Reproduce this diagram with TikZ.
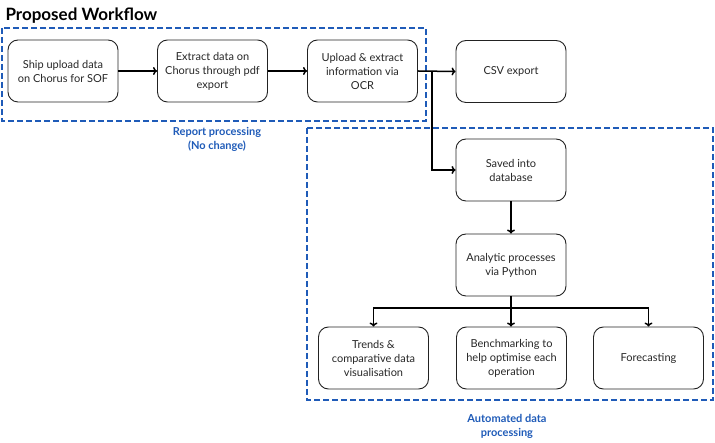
\documentclass[tikz,border=0pt]{standalone}
\usepackage{fontspec}
\setmainfont{Lato}
\usetikzlibrary{arrows.meta}
\definecolor{groupblue}{HTML}{1F5BB8}
\definecolor{boxline}{HTML}{222222}
\begin{document}
\begin{tikzpicture}[x=1pt,y=-1pt,
    stepbox/.style={draw=boxline,line width=0.9pt,rounded corners=10pt,
        minimum width=110pt,minimum height=62pt,align=center,
        font=\fontsize{11}{14}\selectfont,text=black!85},
    flow/.style={line width=1.5pt,-{To[length=4pt,width=8pt]}},
    groupline/.style={color=groupblue,line width=1.1pt,dash pattern=on 6pt off 3pt},
    grouplabel/.style={text=groupblue,font=\fontsize{11}{14}\selectfont\bfseries,align=center}]
                \useasboundingbox (0,0) rectangle (715,443);
                % title
                \node[anchor=west,font=\fontsize{17}{20}\selectfont\bfseries] (title) at (2,16) {Proposed Workflow};
                % group frames
                \draw[groupline] (2,28) rectangle (426,121);
                \draw[groupline] (307,128) rectangle (713,400);
                \node[grouplabel] (reportlbl) at (217,139) {Report processing\\(No change)};
                \node[grouplabel] (autolbl) at (507,426) {Automated data\\processing};
                % report steps
                \node[stepbox] (ship) at (63,71) {Ship upload data\\on Chorus for SOF};
                \node[stepbox] (extract) at (212.5,71) {Extract data on\\Chorus through pdf\\export};
                \node[stepbox] (ocr) at (362.5,71) {Upload \& extract\\information via\\OCR};
                \node[stepbox] (csv) at (511,71.5) {CSV export};
                % automated steps
                \node[stepbox] (saved) at (511,170) {Saved into\\database};
                \node[stepbox] (analytic) at (511,265) {Analytic processes\\via Python};
                \node[stepbox] (trends) at (373.5,358) {Trends \&\\comparative data\\visualisation};
                \node[stepbox] (bench) at (511.5,358) {Benchmarking to\\help optimise each\\operation};
                \node[stepbox] (fore) at (648.5,358) {Forecasting};
                % connectors
                \coordinate (split) at (432,71);
                \coordinate (fork) at (511,308);
                \draw[flow] (ship) -- (extract);
                \draw[flow] (extract) -- (ocr);
                \draw[flow] (ocr.east) -- (csv.west);
                \draw[flow] (split) |- (saved.west);
                \draw[flow] (saved) -- (analytic);
                \draw[flow] (analytic.south) -- (analytic.south |- bench.north);
                \draw[flow] (fork) -| (trends.north);
                \draw[flow] (fork) -| (fore.north);
            \end{tikzpicture}
\end{document}
